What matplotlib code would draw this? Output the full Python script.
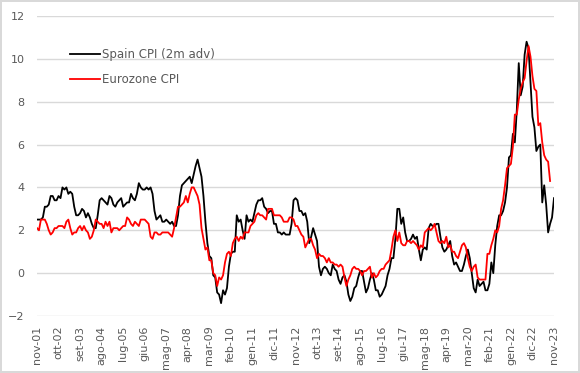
import matplotlib
matplotlib.use("Agg")
import matplotlib.pyplot as plt

# === Data: monthly values, first point = nov-01
spain_cpi_2m_adv = [
    2.5, 2.5,                                                       # 2001 nov-dec
    2.5, 2.6, 3.1, 3.1, 3.2, 3.6, 3.6, 3.4, 3.4, 3.6, 3.5, 4.0,     # 2002
    3.9, 4.0, 3.7, 3.8, 3.7, 3.1, 2.7, 2.7, 2.8, 3.0, 2.9, 2.6,     # 2003
    2.8, 2.6, 2.3, 2.1, 2.1, 2.7, 3.4, 3.5, 3.4, 3.3, 3.2, 3.6,     # 2004
    3.5, 3.2, 3.1, 3.3, 3.4, 3.5, 3.1, 3.2, 3.3, 3.3, 3.7, 3.5,     # 2005
    3.4, 3.7, 4.2, 4.0, 3.9, 3.9, 4.0, 3.9, 4.0, 3.7, 2.9, 2.5,     # 2006
    2.6, 2.7, 2.4, 2.4, 2.5, 2.4, 2.3, 2.4, 2.2, 2.2, 2.7, 3.6,     # 2007
    4.1, 4.2, 4.3, 4.4, 4.5, 4.2, 4.6, 5.0, 5.3, 4.9, 4.5, 3.6,     # 2008
    2.4, 1.4, 0.8, 0.7, -0.1, -0.2, -0.9, -1.0, -1.4, -0.8, -1.0, -0.7,  # 2009
    0.3, 0.9, 1.0, 1.0, 2.7, 2.4, 2.5, 2.0, 1.6, 2.7, 2.4, 2.5,     # 2010
    2.4, 2.8, 3.2, 3.4, 3.4, 3.5, 3.1, 3.0, 2.8, 2.9, 2.9, 2.3,     # 2011
    2.3, 1.9, 1.9, 1.8, 1.9, 1.8, 1.8, 1.8, 2.3, 3.4, 3.5, 3.4,     # 2012
    2.9, 2.9, 2.7, 2.8, 2.4, 1.4, 1.7, 2.1, 1.8, 1.5, 0.3, -0.1,    # 2013
    0.2, 0.3, 0.2, 0.0, -0.1, 0.4, 0.2, 0.1, -0.3, -0.5, -0.2, -0.1,  # 2014
    -0.4, -1.0, -1.3, -1.1, -0.7, -0.6, -0.2, 0.1, 0.1, -0.4, -0.9, -0.7,  # 2015
    -0.3, 0.0, -0.3, -0.8, -0.8, -1.1, -1.0, -0.8, -0.6, -0.1, 0.2, 0.7,  # 2016
    0.7, 1.6, 3.0, 3.0, 2.3, 2.6, 1.9, 1.5, 1.5, 1.6, 1.8, 1.6,     # 2017
    1.7, 1.1, 0.6, 1.1, 1.2, 1.1, 2.1, 2.3, 2.2, 2.2, 2.3, 2.3,     # 2018
    1.7, 1.2, 1.0, 1.1, 1.3, 1.5, 0.8, 0.4, 0.5, 0.3, 0.1, 0.1,     # 2019
    0.4, 0.8, 1.1, 0.7, 0.0, -0.7, -0.9, -0.3, -0.6, -0.5, -0.4, -0.8,  # 2020
    -0.8, -0.5, 0.5, 0.0, 1.3, 2.2, 2.7, 2.7, 2.9, 3.3, 4.0, 5.4,   # 2021
    5.5, 6.5, 6.1, 7.6, 9.8, 8.3, 8.7, 10.2, 10.8, 10.5, 8.9, 7.3,  # 2022
    6.8, 5.7, 5.9, 6.0, 3.3, 4.1, 3.2, 1.9, 2.3, 2.6, 3.5,          # 2023 jan-nov
]

eurozone_cpi = [
    2.1, 2.0,                                                       # 2001 nov-dec
    2.5, 2.5, 2.5, 2.3, 2.0, 1.8, 1.9, 2.1, 2.1, 2.2, 2.2, 2.2,     # 2002
    2.1, 2.4, 2.5, 2.1, 1.8, 1.9, 1.9, 2.1, 2.2, 2.0, 2.2, 2.0,     # 2003
    1.9, 1.6, 1.7, 2.0, 2.5, 2.4, 2.3, 2.3, 2.1, 2.4, 2.2, 2.4,     # 2004
    1.9, 2.1, 2.1, 2.1, 2.0, 2.1, 2.2, 2.2, 2.6, 2.5, 2.3, 2.2,     # 2005
    2.4, 2.3, 2.2, 2.5, 2.5, 2.5, 2.4, 2.3, 1.7, 1.6, 1.9, 1.9,     # 2006
    1.8, 1.8, 1.9, 1.9, 1.9, 1.9, 1.8, 1.7, 2.1, 2.6, 3.1, 3.1,     # 2007
    3.2, 3.3, 3.6, 3.3, 3.7, 4.0, 4.0, 3.8, 3.6, 3.2, 2.1, 1.6,     # 2008
    1.1, 1.2, 0.6, 0.6, 0.0, -0.1, -0.6, -0.2, -0.3, -0.1, 0.5, 0.9,  # 2009
    1.0, 0.8, 1.4, 1.6, 1.7, 1.5, 1.7, 1.6, 1.9, 1.9, 1.9, 2.2,     # 2010
    2.3, 2.4, 2.7, 2.8, 2.7, 2.7, 2.6, 2.5, 3.0, 3.0, 3.0, 2.7,     # 2011
    2.7, 2.7, 2.7, 2.6, 2.4, 2.4, 2.4, 2.6, 2.6, 2.5, 2.2, 2.2,     # 2012
    2.0, 1.8, 1.7, 1.2, 1.4, 1.6, 1.6, 1.3, 1.1, 0.7, 0.9, 0.8,     # 2013
    0.8, 0.7, 0.5, 0.7, 0.5, 0.5, 0.4, 0.4, 0.3, 0.4, 0.3, -0.2,    # 2014
    -0.6, -0.3, -0.1, 0.2, 0.3, 0.2, 0.2, 0.1, -0.1, 0.1, 0.1, 0.2,  # 2015
    0.3, -0.2, 0.0, -0.2, -0.1, 0.1, 0.2, 0.2, 0.4, 0.5, 0.6, 1.1,  # 2016
    1.7, 2.0, 1.5, 1.9, 1.4, 1.3, 1.3, 1.5, 1.5, 1.4, 1.5, 1.4,     # 2017
    1.3, 1.1, 1.3, 1.2, 1.9, 2.0, 2.1, 2.0, 2.1, 2.3, 1.9, 1.5,     # 2018
    1.4, 1.5, 1.4, 1.7, 1.2, 1.3, 1.0, 1.0, 0.8, 0.7, 1.0, 1.3,     # 2019
    1.4, 1.2, 0.7, 0.3, 0.1, 0.3, 0.4, -0.2, -0.3, -0.3, -0.3, -0.3,  # 2020
    0.9, 0.9, 1.3, 1.6, 2.0, 1.9, 2.2, 3.0, 3.4, 4.1, 4.9, 5.0,     # 2021
    5.1, 5.9, 7.4, 7.4, 8.1, 8.6, 8.9, 9.1, 9.9, 10.6, 10.1, 9.2,   # 2022
    8.6, 8.5, 6.9, 7.0, 6.1, 5.5, 5.3, 5.2, 4.3,                    # 2023 jan-sep
]

tick_labels = ["nov-01", "ott-02", "set-03", "ago-04", "lug-05", "giu-06",
               "mag-07", "apr-08", "mar-09", "feb-10", "gen-11", "dic-11",
               "nov-12", "ott-13", "set-14", "ago-15", "lug-16", "giu-17",
               "mag-18", "apr-19", "mar-20", "feb-21", "gen-22", "dic-22",
               "nov-23"]
tick_step = 11  # one label every 11 months

# === Plot
grey_txt = "#595959"
fig = plt.figure(figsize=(5.8, 3.73), dpi=100)
fig.patch.set_edgecolor("#D9D9D9")
fig.patch.set_linewidth(1.5)
ax = fig.add_axes([37 / 580, 1 - 316 / 373, (554 - 37) / 580, (316 - 16) / 373])

ax.plot(range(len(spain_cpi_2m_adv)), spain_cpi_2m_adv, color="black", lw=1.3,
        label="Spain CPI (2m adv)")
ax.plot(range(len(eurozone_cpi)), eurozone_cpi, color="#FF0000", lw=1.3,
        label="Eurozone CPI")

ax.set_xlim(0, len(spain_cpi_2m_adv) - 1)
ax.set_ylim(-2, 12)
ax.set_yticks(range(-2, 13, 2))
ax.set_xticks(range(0, tick_step * len(tick_labels), tick_step))
ax.set_xticklabels(tick_labels, rotation=90)
ax.tick_params(axis="x", length=0, pad=7, labelsize=8, labelcolor=grey_txt)
ax.tick_params(axis="y", length=0, pad=9, labelsize=8, labelcolor=grey_txt)
ax.grid(axis="y", color="#D9D9D9", lw=1)
ax.set_axisbelow(True)
for s in ax.spines.values():
    s.set_visible(False)

leg = ax.legend(loc="upper left", bbox_to_anchor=(70 / 580, 1 - 48 / 373),
                bbox_transform=fig.transFigure, frameon=False, fontsize=8.5,
                handlelength=2.5, handletextpad=0.25, labelspacing=1.05,
                borderaxespad=0, borderpad=0)
for t in leg.get_texts():
    t.set_color(grey_txt)

fig.savefig("out.png", dpi=100, edgecolor=fig.get_edgecolor())
